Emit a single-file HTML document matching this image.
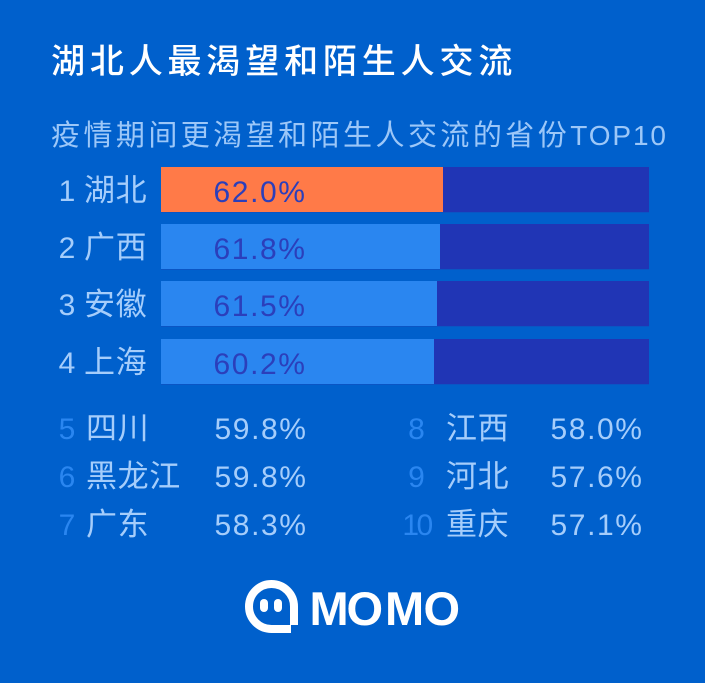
<!DOCTYPE html>
<html lang="zh">
<head>
<meta charset="utf-8">
<title>湖北人最渴望和陌生人交流</title>
<style>
html,body{margin:0;padding:0;background:#0060cc;width:705px;height:683px;overflow:hidden}
svg{display:block}
text{font-family:"Liberation Sans","Noto Sans CJK SC",sans-serif}
</style>
</head>
<body>
<svg id="chart" xmlns="http://www.w3.org/2000/svg" width="705" height="683" viewBox="0 0 705 683">
  <rect x="0" y="0" width="705" height="683" fill="#0060cc"/>
  <text x="51" y="73" font-size="34" font-weight="500" fill="#ffffff" style="letter-spacing:4.85px">湖北人最渴望和陌生人交流</text>
  <text x="51" y="145" font-size="29" fill="#9cc7f8" style="letter-spacing:3.45px">疫情期间更渴望和陌生人交流的省份<tspan font-size="28" style="letter-spacing:1.9px">TOP10</tspan></text>
  <g id="bars"></g>
  <g id="list"></g>
  <g>
    <path d="M294 625V606.500A22.500 22.500 0 1 0 271.500 629H291" fill="none" stroke="#ffffff" stroke-width="8"/>
    <rect x="260" y="599" width="8" height="13" rx="4" fill="#ffffff"/>
    <rect x="274" y="599" width="8" height="13" rx="4" fill="#ffffff"/>
    <text x="309.500 346.500 385 423.500" y="625" font-size="47" font-weight="700" fill="#ffffff">MOMO</text>
  </g>
</svg>
<script>
var topRanks = ["1", "2", "3", "4"];
var topProvinces = ["湖北", "广西", "安徽", "上海"];
var topValues = [62.0, 61.8, 61.5, 60.2];

var leftRanks = ["5", "6", "7"];
var leftProvinces = ["四川", "黑龙江", "广东"];
var leftValues = [59.8, 59.8, 58.3];

var rightRanks = ["8", "9", "10"];
var rightProvinces = ["江西", "河北", "重庆"];
var rightValues = [58.0, 57.6, 57.1];

var NS = "http://www.w3.org/2000/svg";

/* Bar axis: a piecewise value scale for the 488px track */
function barWidth(v) {
  var d = [0, 60.2, 61.5, 61.8, 62, 100];
  var r = [0, 273, 276, 279, 282, 488];
  if (v <= d[0]) return r[0];
  for (var i = 1; i < d.length; i++) {
    if (v <= d[i]) return r[i - 1] + (v - d[i - 1]) / (d[i] - d[i - 1]) * (r[i] - r[i - 1]);
  }
  return r[r.length - 1];
}
function rowY(i) { return [167, 224, 281, 339][i]; }
function listY(i) { return 439 + i * 48; }

function make(tag, attrs, parent, txt) {
  var el = document.createElementNS(NS, tag);
  for (var k in attrs) el.setAttribute(k, attrs[k]);
  if (txt !== undefined) el.textContent = txt;
  parent.appendChild(el);
  return el;
}

var barsG = document.getElementById("bars");
topValues.forEach(function (v, i) {
  var y = rowY(i);
  var shadow = make("rect", {x: 161, y: y + 45, width: 488, height: 1, fill: "#0a55c4"}, barsG);
  
  
  var track = make("rect", {x: 161, y: y, width: 488, height: 45, fill: "#2035b5"}, barsG);
  
  
  var fill = make("rect", {x: 161, y: y, width: barWidth(v), height: 45, fill: i === 0 ? "#ff7a48" : "#2a86f0"}, barsG);
  
  
  var rank = make("text", {x: 67, y: y + 34, "font-size": 30, fill: "#a5cdfb", "text-anchor": "middle"}, barsG, topRanks[i]);
  
  
  var prov = make("text", {x: 84, y: y + 34, "font-size": 31, fill: "#a5cdfb", style: "letter-spacing:0.6px"}, barsG, topProvinces[i]);
  
  
  var val = make("text", {x: 213.5, y: y + 35, "font-size": 30, fill: "#2b3fbb", style: "letter-spacing:1.6px"}, barsG, v.toFixed(1) + "%");
  
  
});

var listG = document.getElementById("list");
function drawColumn(ranks, provinces, values, rankMid, provX, valX) {
  values.forEach(function (v, i) {
    var y = listY(i);
    var rank = make("text", {x: rankMid, y: y, "font-size": 30, fill: "#2a86f0", "text-anchor": "middle", style: ranks[i].length > 1 ? "letter-spacing:-2.5px" : ""}, listG, ranks[i]);
    
    
    var prov = make("text", {x: provX, y: y, "font-size": 31, fill: "#a5cdfb", style: "letter-spacing:0.6px"}, listG, provinces[i]);
    
    
    var val = make("text", {x: valX, y: y, "font-size": 30, fill: "#a5cdfb", style: "letter-spacing:1.6px"}, listG, v.toFixed(1) + "%");
    
    
  });
}
drawColumn(leftRanks, leftProvinces, leftValues, 67, 86, 214.5);
drawColumn(rightRanks, rightProvinces, rightValues, 416.5, 446, 550.5);
</script>
</body>
</html>
